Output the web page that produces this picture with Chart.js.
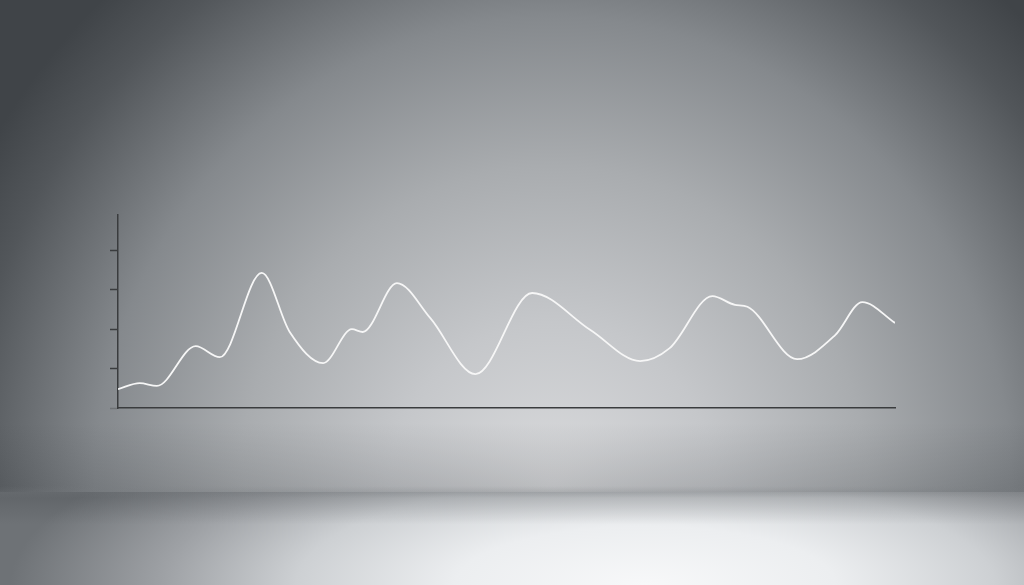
<!DOCTYPE html>
<html>
<head>
<meta charset="utf-8">
<script src="https://cdn.jsdelivr.net/npm/chart.js"></script>
<style>
  html, body { margin: 0; padding: 0; width: 1024px; height: 585px; overflow: hidden; }
  body { position: relative; background: #9a9da1; }
  #wall {
    position: absolute; left: 0; top: 0; width: 1024px; height: 492px;
    background:
      linear-gradient(to bottom, rgba(40,44,48,0) 86%, rgba(40,44,48,0.18) 100%),
      radial-gradient(ellipse 64% 138% at 54% 100%, #dadbdd 0%, #c5c7ca 25%, #a9acaf 48%, #85898d 70%, #52565a 90%, #404448 100%);
  }
  #floor {
    position: absolute; left: 0; top: 492px; width: 1024px; height: 93px;
    background:
      linear-gradient(to bottom, rgba(60,64,68,0.28) 0%, rgba(60,64,68,0) 35%),
      radial-gradient(ellipse 62% 210% at 63% 100%, #f7f8f9 0%, #eceef0 30%, #cdd0d3 55%, #9ea1a5 76%, #6e7276 100%);
  }
  #seam {
    position: absolute; left: 0; top: 486px; width: 1024px; height: 12px;
    background: linear-gradient(to bottom, rgba(120,124,128,0), rgba(120,124,128,0.22) 50%, rgba(120,124,128,0));
  }
  #wrap { position: absolute; left: 0; top: 0; width: 1024px; height: 585px; }
</style>
</head>
<body>
<div id="wall"></div>
<div id="floor"></div>
<div id="seam"></div>
<div id="wrap"><canvas id="lineChart"></canvas></div>
<script>
// values (x on a 0-100 run, y in axis units)
const xValues = [0, 2.8, 5.0, 10.0, 13.1, 18.5, 22.1, 26.4, 30.1, 31.5, 35.9, 40.2, 46.0,
  53.3, 60.8, 67.2, 71.0, 76.5, 79.4, 81.0, 87.4, 92.3, 95.8, 100];
const yValues = [0.48, 0.63, 0.56, 1.57, 1.29, 3.43, 1.93, 1.14, 2.00, 1.93, 3.17, 2.28, 0.86,
  2.92, 1.98, 1.19, 1.52, 2.84, 2.62, 2.57, 1.24, 1.85, 2.69, 2.16];
const yTicks = [0, 1, 2, 3, 4];

const points = xValues.map((x, i) => ({ x: x, y: yValues[i] }));

new Chart(document.getElementById('lineChart'), {
  type: 'line',
  data: {
    datasets: [{
      data: points,
      borderColor: '#f6f6f6',
      borderWidth: 1.8,
      pointRadius: 0,
      cubicInterpolationMode: 'monotone',
      fill: false
    }]
  },
  options: {
    responsive: true,
    maintainAspectRatio: false,
    animation: false,
    layout: { padding: { left: 105, right: 129, top: 215, bottom: 177 } },
    plugins: { legend: { display: false }, tooltip: { enabled: false } },
    scales: {
      x: {
        type: 'linear',
        min: 0,
        max: 100,
        ticks: { display: false },
        grid: { display: false },
        border: { display: true, color: '#3a3c3e', width: 1.5 },
        afterFit: s => { s.height = 0; }
      },
      y: {
        min: 0,
        max: 4.9,
        ticks: { display: false, stepSize: 1 },
        afterBuildTicks: s => { s.ticks = yTicks.map(v => ({ value: v })); },
        grid: {
          drawOnChartArea: false,
          drawTicks: true,
          tickLength: 13,
          tickWidth: 1.5,
          tickColor: ctx => ctx.tick && ctx.tick.value === 0 ? 'rgba(40,40,40,0.25)' : '#3a3c3e',
          tickBorderDash: [8, 5],
          tickBorderDashOffset: 8
        },
        border: { display: true, color: '#3a3c3e', width: 1.5 },
        afterFit: s => { s.width = 13; }
      }
    }
  }
});
</script>
</body>
</html>
